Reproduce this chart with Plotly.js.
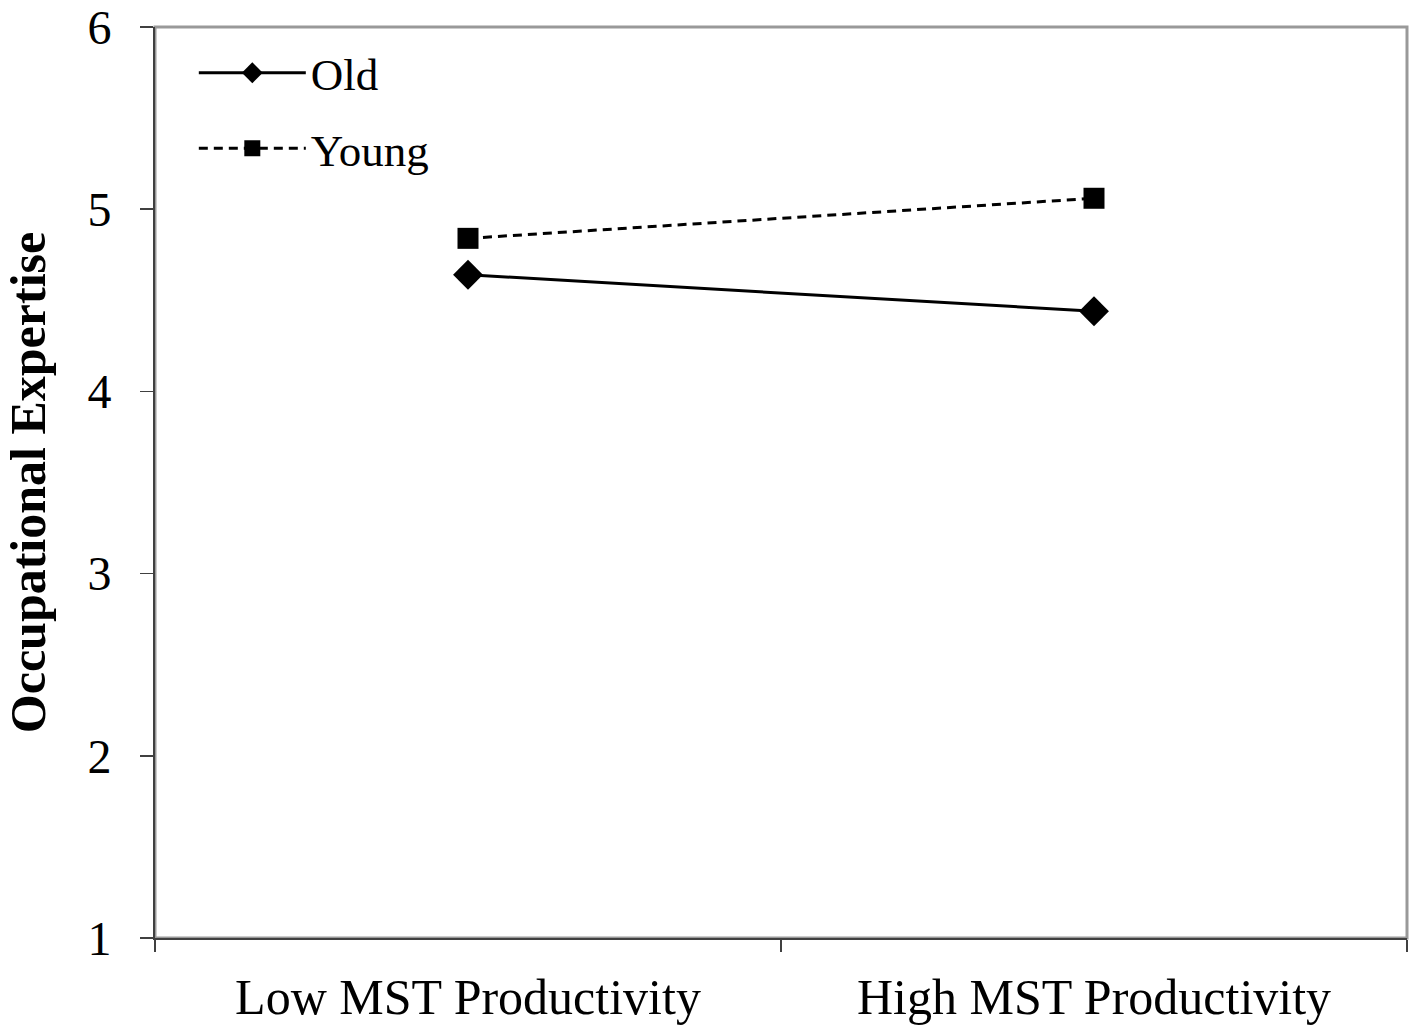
<!DOCTYPE html>
<html>
<head>
<meta charset="utf-8">
<script src="https://cdn.plot.ly/plotly-3.0.1.min.js"></script>
<style>
  html, body { margin: 0; padding: 0; background: #fff; }
  #graph { width: 1413px; height: 1025px; }
</style>
</head>
<body>
<div id="graph"></div>
<script>
// categories on the x axis
const categories = ['Low MST Productivity', 'High MST Productivity'];

// values
const oldValues = [4.64, 4.44];
const youngValues = [4.84, 5.06];

const yTicks = [1, 2, 3, 4, 5, 6];

const serif = 'Liberation Serif, Times New Roman, serif';

const traceOld = {
    x: categories,
    y: oldValues,
    name: 'Old',
    legendgroup: 'old',
    mode: 'lines+markers',
    line: { color: '#000', width: 3, dash: 'solid' },
    marker: { symbol: 'diamond', size: 23, color: '#000' }
};

const traceYoung = {
    x: categories,
    y: youngValues,
    name: 'Young',
    legendgroup: 'young',
    mode: 'lines+markers',
    line: { color: '#000', width: 3, dash: '9px,6px' },
    marker: { symbol: 'square', size: 21, color: '#000' }
};

const layout = {
    width: 1413,
    height: 1025,
    margin: { l: 155, r: 6, t: 27, b: 87, pad: 0 },
    paper_bgcolor: '#fff',
    plot_bgcolor: '#fff',
    font: { family: serif, color: '#000' },
    showlegend: true,
    legend: {
        x: 0.031, y: 0.989,
        xanchor: 'left', yanchor: 'top',
        bgcolor: 'rgba(0,0,0,0)',
        font: { size: 45, family: serif },
        tracegroupgap: 14,
        itemwidth: 107
    },
    xaxis: {
        type: 'category',
        range: [-0.5, 1.5],
        showgrid: false,
        zeroline: false,
        showline: true,
        linecolor: '#404040',
        linewidth: 2,
        ticks: 'outside',
        tickson: 'boundaries',
        ticklen: 12,
        tickwidth: 1.5,
        tickcolor: '#404040',
        ticklabelstandoff: 14,
        tickfont: { size: 50, family: serif },
        fixedrange: true
    },
    yaxis: {
        range: [1, 6],
        tickvals: yTicks,
        showgrid: false,
        zeroline: false,
        showline: true,
        linecolor: '#404040',
        linewidth: 2,
        ticks: 'outside',
        ticklen: 13,
        tickwidth: 1.5,
        tickcolor: '#404040',
        ticklabelstandoff: 19,
        tickfont: { size: 48, family: serif },
        title: {
            text: '<b>Occupational Expertise</b>',
            font: { size: 50, family: serif },
            standoff: 46
        },
        automargin: false,
        fixedrange: true
    },
    shapes: [{
        type: 'rect', xref: 'paper', yref: 'paper',
        x0: 0, x1: 1, y0: 0, y1: 1,
        line: { color: '#999', width: 3 },
        layer: 'below'
    }]
};

Plotly.newPlot('graph', [traceOld, traceYoung], layout, { displayModeBar: false, staticPlot: true });
</script>
</body>
</html>
